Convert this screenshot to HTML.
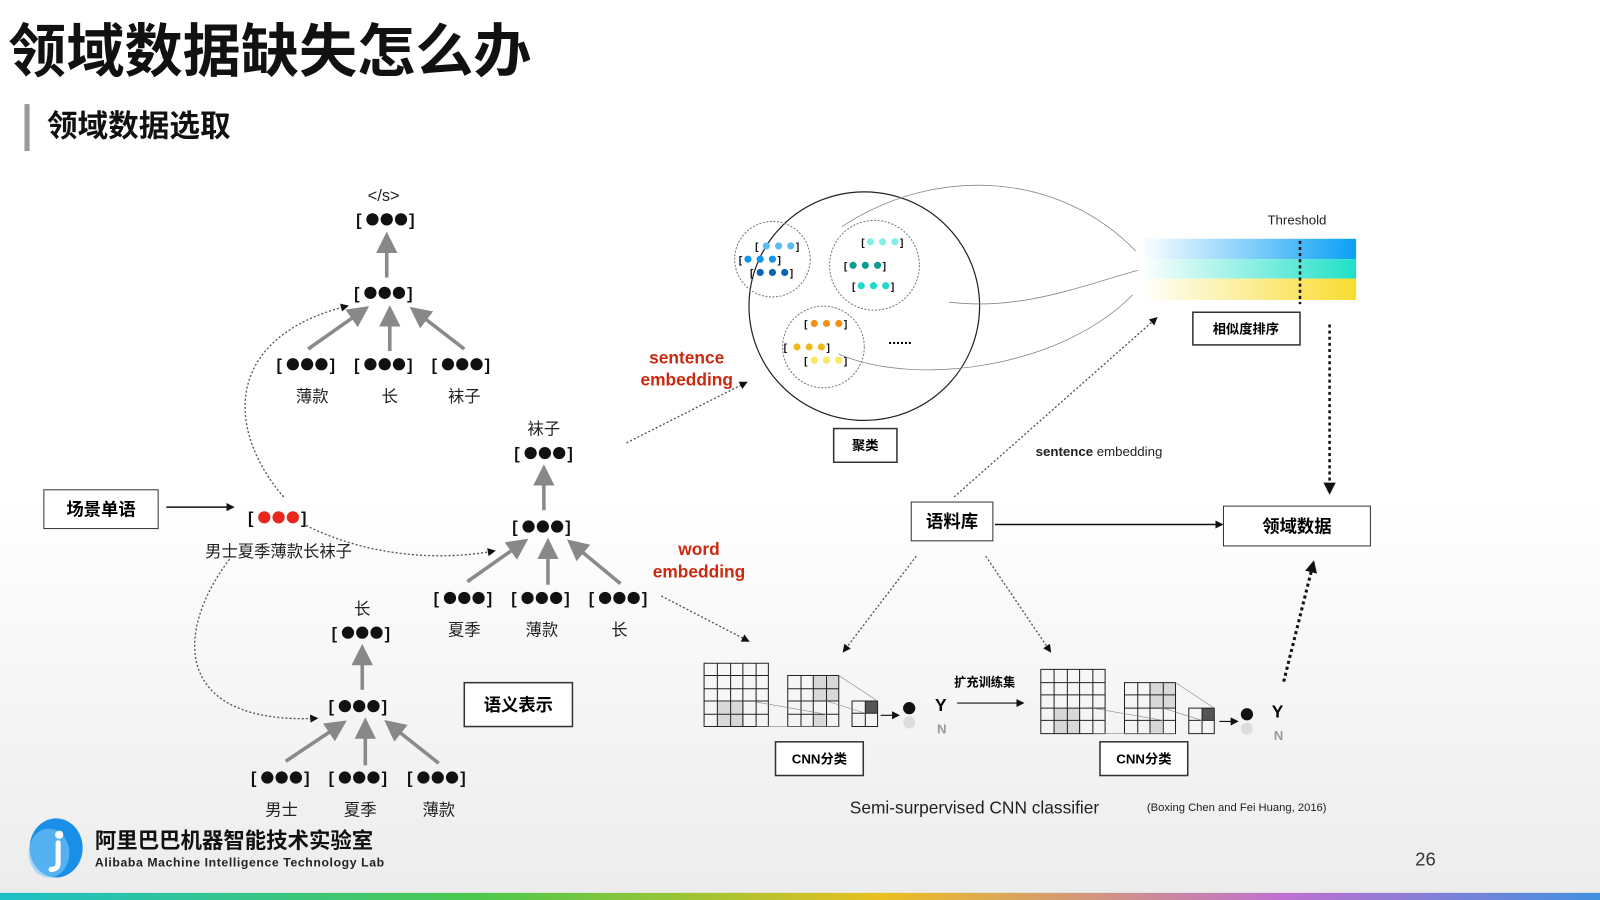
<!DOCTYPE html>
<html><head><meta charset="utf-8"><style>
html,body{margin:0;padding:0;width:1600px;height:900px;overflow:hidden;background:#fff}
svg{display:block}
text{font-family:"Liberation Sans","Noto Sans CJK SC",sans-serif}
.s{font-family:"Liberation Serif","Noto Serif CJK SC",serif;font-size:16px;fill:#222}
.b{font-weight:bold;font-size:17px}
</style></head><body>
<svg width="1600" height="900" viewBox="0 0 1568 882" preserveAspectRatio="none" xmlns="http://www.w3.org/2000/svg">
<defs>
<linearGradient id="bg" x1="0" y1="0" x2="0" y2="1"><stop offset="0.55" stop-color="#fff"/><stop offset="1" stop-color="#ececec"/></linearGradient>
<linearGradient id="rb" x1="0" x2="1"><stop offset="0" stop-color="#1ec0c8"/><stop offset="0.3" stop-color="#4cc84c"/><stop offset="0.55" stop-color="#e8c020"/><stop offset="0.8" stop-color="#c070d0"/><stop offset="1" stop-color="#4090e0"/></linearGradient>
<linearGradient id="g1" x1="0" x2="1"><stop offset="0" stop-color="#fff"/><stop offset="1" stop-color="#0aa0f5"/></linearGradient>
<linearGradient id="g2" x1="0" x2="1"><stop offset="0" stop-color="#fff"/><stop offset="1" stop-color="#20e0c8"/></linearGradient>
<linearGradient id="g3" x1="0" x2="1"><stop offset="0" stop-color="#fff"/><stop offset="1" stop-color="#f8dc30"/></linearGradient>
<marker id="ag" markerWidth="6" markerHeight="6" refX="4" refY="3" orient="auto" markerUnits="strokeWidth"><path d="M0,0 L6,3 L0,6z" fill="#888"/></marker>
<marker id="ak" markerWidth="8" markerHeight="8" refX="6" refY="4" orient="auto" markerUnits="userSpaceOnUse"><path d="M0,0 L8,4 L0,8z" fill="#111"/></marker>
<marker id="akb" markerWidth="12" markerHeight="12" refX="9" refY="6" orient="auto" markerUnits="userSpaceOnUse"><path d="M0,0 L12,6 L0,12z" fill="#111"/></marker>
</defs>
<rect width="1568" height="882" fill="url(#bg)"/>
<rect y="875" width="1568" height="7" fill="url(#rb)"/>

<text x="8" y="70" font-size="57" font-weight="bold" fill="#111">领域数据缺失怎么办</text>
<rect x="24" y="102" width="5" height="46" fill="#999"/>
<text x="46" y="134" font-size="30" font-weight="bold" fill="#111">领域数据选取</text>

<!-- vector nodes -->
<g fill="#111" font-weight="bold" font-size="16">
<g transform="translate(379,215)"><text x="-30" y="6">[</text><circle cx="-14" r="6"/><circle cx="0" r="6"/><circle cx="14" r="6"/><text x="22" y="6">]</text></g>
<g transform="translate(377,287)"><text x="-30" y="6">[</text><circle cx="-14" r="6"/><circle cx="0" r="6"/><circle cx="14" r="6"/><text x="22" y="6">]</text></g>
<g transform="translate(301,357)"><text x="-30" y="6">[</text><circle cx="-14" r="6"/><circle cx="0" r="6"/><circle cx="14" r="6"/><text x="22" y="6">]</text></g>
<g transform="translate(377,357)"><text x="-30" y="6">[</text><circle cx="-14" r="6"/><circle cx="0" r="6"/><circle cx="14" r="6"/><text x="22" y="6">]</text></g>
<g transform="translate(453,357)"><text x="-30" y="6">[</text><circle cx="-14" r="6"/><circle cx="0" r="6"/><circle cx="14" r="6"/><text x="22" y="6">]</text></g>
<g transform="translate(534,444)"><text x="-30" y="6">[</text><circle cx="-14" r="6"/><circle cx="0" r="6"/><circle cx="14" r="6"/><text x="22" y="6">]</text></g>
<g transform="translate(532,516)"><text x="-30" y="6">[</text><circle cx="-14" r="6"/><circle cx="0" r="6"/><circle cx="14" r="6"/><text x="22" y="6">]</text></g>
<g transform="translate(455,586)"><text x="-30" y="6">[</text><circle cx="-14" r="6"/><circle cx="0" r="6"/><circle cx="14" r="6"/><text x="22" y="6">]</text></g>
<g transform="translate(531,586)"><text x="-30" y="6">[</text><circle cx="-14" r="6"/><circle cx="0" r="6"/><circle cx="14" r="6"/><text x="22" y="6">]</text></g>
<g transform="translate(607,586)"><text x="-30" y="6">[</text><circle cx="-14" r="6"/><circle cx="0" r="6"/><circle cx="14" r="6"/><text x="22" y="6">]</text></g>
<g transform="translate(355,620)"><text x="-30" y="6">[</text><circle cx="-14" r="6"/><circle cx="0" r="6"/><circle cx="14" r="6"/><text x="22" y="6">]</text></g>
<g transform="translate(352,692)"><text x="-30" y="6">[</text><circle cx="-14" r="6"/><circle cx="0" r="6"/><circle cx="14" r="6"/><text x="22" y="6">]</text></g>
<g transform="translate(276,762)"><text x="-30" y="6">[</text><circle cx="-14" r="6"/><circle cx="0" r="6"/><circle cx="14" r="6"/><text x="22" y="6">]</text></g>
<g transform="translate(352,762)"><text x="-30" y="6">[</text><circle cx="-14" r="6"/><circle cx="0" r="6"/><circle cx="14" r="6"/><text x="22" y="6">]</text></g>
<g transform="translate(429,762)"><text x="-30" y="6">[</text><circle cx="-14" r="6"/><circle cx="0" r="6"/><circle cx="14" r="6"/><text x="22" y="6">]</text></g>
<g transform="translate(273,507)"><text x="-30" y="6">[</text><circle cx="-14" r="6" fill="#e8281c"/><circle cx="0" r="6" fill="#e8281c"/><circle cx="14" r="6" fill="#e8281c"/><text x="22" y="6">]</text></g>
</g>

<!-- gray tree arrows -->
<g stroke="#8a8a8a" stroke-width="3.5" marker-end="url(#ag)">
<line x1="379" y1="272" x2="379" y2="234"/>
<line x1="302" y1="342" x2="356" y2="304"/>
<line x1="382" y1="344" x2="382" y2="306"/>
<line x1="455" y1="342" x2="407" y2="305"/>
<line x1="533" y1="500" x2="533" y2="462"/>
<line x1="458" y1="570" x2="512" y2="532"/>
<line x1="537" y1="573" x2="537" y2="534"/>
<line x1="608" y1="572" x2="561" y2="533"/>
<line x1="355" y1="676" x2="355" y2="638"/>
<line x1="280" y1="746" x2="334" y2="710"/>
<line x1="358" y1="750" x2="358" y2="710"/>
<line x1="430" y1="748" x2="382" y2="710"/>
</g>

<g class="s">
<text x="376" y="197" text-anchor="middle">&lt;/s&gt;</text>
<text x="306" y="394" text-anchor="middle">薄款</text><text x="382" y="394" text-anchor="middle">长</text><text x="455" y="394" text-anchor="middle">袜子</text>
<text x="533" y="426" text-anchor="middle">袜子</text>
<text x="455" y="623" text-anchor="middle">夏季</text><text x="531" y="623" text-anchor="middle">薄款</text><text x="607" y="623" text-anchor="middle">长</text>
<text x="355" y="602" text-anchor="middle">长</text>
<text x="276" y="799" text-anchor="middle">男士</text><text x="353" y="799" text-anchor="middle">夏季</text><text x="430" y="799" text-anchor="middle">薄款</text>
<text x="273" y="546" text-anchor="middle">男士夏季薄款长袜子</text>
</g>

<rect x="43" y="480" width="112" height="38" fill="#fff" stroke="#333"/>
<text x="99" y="505" text-anchor="middle" class="b">场景单语</text>
<line x1="163" y1="497" x2="228" y2="497" stroke="#111" stroke-width="1.5" marker-end="url(#ak)"/>
<rect x="455" y="669" width="106" height="43" fill="#fff" stroke="#333" stroke-width="1.5"/>
<text x="508" y="697" text-anchor="middle" class="b">语义表示</text>

<g fill="none" stroke="#555" stroke-width="1.3" stroke-dasharray="2,2">
<path d="M278,487 C220,420 220,330 340,300" marker-end="url(#ak)"/>
<path d="M300,515 C360,545 430,550 484,540" marker-end="url(#ak)"/>
<path d="M225,548 C170,620 170,710 310,704" marker-end="url(#ak)"/>
<path d="M614,434 L731,375" marker-end="url(#ak)"/>
<path d="M648,584 L733,628" marker-end="url(#ak)"/>
<path d="M935,487 L1133,312" marker-end="url(#ak)"/>
<path d="M898,545 L827,638" marker-end="url(#ak)"/>
<path d="M966,545 L1029,638" marker-end="url(#ak)"/>
</g>
<g fill="#cc2a10" font-weight="bold" font-size="17" text-anchor="middle">
<text x="673" y="356">sentence</text><text x="673" y="378">embedding</text>
<text x="685" y="544">word</text><text x="685" y="566">embedding</text>
</g>

<!-- clusters -->
<ellipse cx="847" cy="300" rx="113" ry="112" fill="none" stroke="#222" stroke-width="1.2"/>
<g fill="none" stroke="#777" stroke-dasharray="2,1.5">
<circle cx="757" cy="254" r="37"/><circle cx="857" cy="260" r="44"/><circle cx="807" cy="340" r="40"/>
</g>
<g font-size="10" font-weight="bold" fill="#111">
<text x="740" y="245">[</text><circle cx="751" cy="241" r="3.5" fill="#5bbcf5"/><circle cx="763" cy="241" r="3.5" fill="#5bbcf5"/><circle cx="775" cy="241" r="3.5" fill="#5bbcf5"/><text x="780" y="245">]</text>
<text x="724" y="258">[</text><circle cx="733" cy="254" r="3.5" fill="#1496e8"/><circle cx="745" cy="254" r="3.5" fill="#1496e8"/><circle cx="757" cy="254" r="3.5" fill="#1496e8"/><text x="762" y="258">]</text>
<text x="735" y="271">[</text><circle cx="745" cy="267" r="3.5" fill="#0a64b4"/><circle cx="757" cy="267" r="3.5" fill="#0a64b4"/><circle cx="769" cy="267" r="3.5" fill="#0a64b4"/><text x="774" y="271">]</text>
<text x="844" y="241">[</text><circle cx="853" cy="237" r="3.5" fill="#7ff0e8"/><circle cx="865" cy="237" r="3.5" fill="#7ff0e8"/><circle cx="877" cy="237" r="3.5" fill="#7ff0e8"/><text x="882" y="241">]</text>
<text x="827" y="264">[</text><circle cx="836" cy="260" r="3.5" fill="#109a90"/><circle cx="848" cy="260" r="3.5" fill="#109a90"/><circle cx="860" cy="260" r="3.5" fill="#109a90"/><text x="865" y="264">]</text>
<text x="835" y="284">[</text><circle cx="844" cy="280" r="3.5" fill="#20d8c8"/><circle cx="856" cy="280" r="3.5" fill="#20d8c8"/><circle cx="868" cy="280" r="3.5" fill="#20d8c8"/><text x="873" y="284">]</text>
<text x="788" y="321">[</text><circle cx="798" cy="317" r="3.5" fill="#f59010"/><circle cx="810" cy="317" r="3.5" fill="#f59010"/><circle cx="822" cy="317" r="3.5" fill="#f59010"/><text x="827" y="321">]</text>
<text x="768" y="344">[</text><circle cx="781" cy="340" r="3.5" fill="#f0b820"/><circle cx="793" cy="340" r="3.5" fill="#f0b820"/><circle cx="805" cy="340" r="3.5" fill="#f0b820"/><text x="810" y="344">]</text>
<text x="788" y="357">[</text><circle cx="798" cy="353" r="3.5" fill="#fae860"/><circle cx="810" cy="353" r="3.5" fill="#fae860"/><circle cx="822" cy="353" r="3.5" fill="#fae860"/><text x="827" y="357">]</text>
</g>
<text x="882" y="337" text-anchor="middle" font-size="14" font-weight="bold">......</text>
<g fill="none" stroke="#888" stroke-width="0.8">
<path d="M825,222 C920,160 1040,170 1113,246"/>
<path d="M930,296 C1000,305 1060,280 1115,265"/>
<path d="M822,347 C900,380 1040,360 1110,289"/>
</g>
<rect x="817" y="420" width="62" height="33" fill="#fff" stroke="#333" stroke-width="1.5"/>
<text x="848" y="441" text-anchor="middle" font-size="13" font-weight="bold">聚类</text>

<rect x="1117" y="234" width="212" height="20" fill="url(#g1)"/>
<rect x="1117" y="254" width="212" height="19" fill="url(#g2)"/>
<rect x="1117" y="273" width="212" height="21" fill="url(#g3)"/>
<text x="1271" y="220" text-anchor="middle" font-size="13" fill="#222">Threshold</text>
<line x1="1274" y1="236" x2="1274" y2="298" stroke="#111" stroke-width="2.5" stroke-dasharray="3,3"/>
<rect x="1169" y="306" width="105" height="32" fill="#fff" stroke="#333" stroke-width="1.5"/>
<text x="1221" y="327" text-anchor="middle" font-size="13" font-weight="bold">相似度排序</text>
<line x1="1303" y1="318" x2="1303" y2="482" stroke="#111" stroke-width="2.5" stroke-dasharray="3,3" marker-end="url(#akb)"/>
<text x="1077" y="447" text-anchor="middle" font-size="13" fill="#222"><tspan font-weight="bold">sentence</tspan> embedding</text>

<rect x="893" y="492" width="80" height="38" fill="#fff" stroke="#333"/>
<text x="933" y="517" text-anchor="middle" class="b">语料库</text>
<line x1="975" y1="514" x2="1197" y2="514" stroke="#111" stroke-width="1.5" marker-end="url(#ak)"/>
<rect x="1199" y="496" width="144" height="39" fill="#fff" stroke="#333"/>
<text x="1271" y="522" text-anchor="middle" class="b">领域数据</text>
<line x1="1258" y1="668" x2="1287" y2="552" stroke="#111" stroke-width="3" stroke-dasharray="3,3" marker-end="url(#akb)"/>

<!-- CNN 1 -->
<g stroke="#222" stroke-width="1" fill="none">
<rect x="703" y="688" width="26" height="24" fill="#d8d8d8" stroke="none"/>
<path d="M690,650h63v62h-63zM703,650v62M716,650v62M728,650v62M741,650v62M690,662h63M690,675h63M690,687h63M690,700h63"/>
<rect x="797" y="662" width="25" height="25" fill="#d8d8d8" stroke="none"/><rect x="797" y="700" width="12" height="12" fill="#d8d8d8" stroke="none"/>
<path d="M772,662h50v50h-50zM785,662v50M797,662v50M810,662v50M772,675h50M772,687h50M772,700h50"/>
<rect x="848" y="687" width="12" height="12" fill="#555" stroke="none"/>
<path d="M835,687h25v25h-25zM848,687v25M835,699h25"/>
<path d="M741,688L810,700M741,712L822,712M822,662L860,687M810,687L848,699" stroke="#888" stroke-width="0.6"/>
</g>
<line x1="863" y1="701" x2="880" y2="701" stroke="#111" marker-end="url(#ak)"/>
<circle cx="891" cy="694" r="6" fill="#111"/><circle cx="891" cy="708" r="6" fill="#ddd"/>
<text x="922" y="697" text-anchor="middle" font-size="17" font-weight="bold">Y</text>
<text x="923" y="719" text-anchor="middle" font-size="13" font-weight="bold" fill="#999">N</text>
<text x="965" y="673" text-anchor="middle" font-size="12" font-weight="bold">扩充训练集</text>
<line x1="938" y1="689" x2="1002" y2="689" stroke="#111" marker-end="url(#ak)"/>
<!-- CNN 2 -->
<g stroke="#222" stroke-width="1" fill="none">
<rect x="1033" y="694" width="26" height="25" fill="#d8d8d8" stroke="none"/>
<path d="M1020,656h63v63h-63zM1033,656v63M1046,656v63M1058,656v63M1071,656v63M1020,669h63M1020,681h63M1020,694h63M1020,706h63"/>
<rect x="1127" y="669" width="25" height="25" fill="#d8d8d8" stroke="none"/><rect x="1127" y="706" width="12" height="13" fill="#d8d8d8" stroke="none"/>
<path d="M1102,669h50v50h-50zM1115,669v50M1127,669v50M1140,669v50M1102,681h50M1102,694h50M1102,706h50"/>
<rect x="1178" y="694" width="12" height="12" fill="#555" stroke="none"/>
<path d="M1165,694h25v25h-25zM1178,694v25M1165,706h25"/>
<path d="M1071,694L1140,706M1071,719L1152,719M1152,669L1190,694M1140,694L1178,706" stroke="#888" stroke-width="0.6"/>
</g>
<line x1="1195" y1="707" x2="1212" y2="707" stroke="#111" marker-end="url(#ak)"/>
<circle cx="1222" cy="700" r="6" fill="#111"/><circle cx="1222" cy="714" r="6" fill="#ddd"/>
<text x="1252" y="703" text-anchor="middle" font-size="17" font-weight="bold">Y</text>
<text x="1253" y="725" text-anchor="middle" font-size="13" font-weight="bold" fill="#999">N</text>
<rect x="760" y="727" width="86" height="33" fill="#fff" stroke="#333" stroke-width="1.5"/>
<text x="803" y="748" text-anchor="middle" font-size="13" font-weight="bold">CNN分类</text>
<rect x="1078" y="727" width="86" height="33" fill="#fff" stroke="#333" stroke-width="1.5"/>
<text x="1121" y="748" text-anchor="middle" font-size="13" font-weight="bold">CNN分类</text>
<text x="955" y="797" text-anchor="middle" font-size="17" fill="#222">Semi-surpervised CNN classifier</text>
<text x="1212" y="795" text-anchor="middle" font-size="11" fill="#222">(Boxing Chen and Fei Huang, 2016)</text>

<!-- logo -->
<ellipse cx="55" cy="831" rx="26" ry="29" fill="#1a8fe8"/>
<ellipse cx="48" cy="836" rx="20" ry="24" fill="#7cc8f8" opacity="0.6"/>
<circle cx="58" cy="818" r="4" fill="#fff"/>
<path d="M57,826 v20 q0,6 -7,6" stroke="#fff" stroke-width="5" fill="none" stroke-linecap="round"/>
<text x="93" y="831" font-size="21" font-weight="bold" fill="#111">阿里巴巴机器智能技术实验室</text>
<text x="93" y="849" font-size="12" font-weight="bold" fill="#222" letter-spacing="0.6">Alibaba Machine Intelligence Technology Lab</text>
<text x="1397" y="848" text-anchor="middle" font-size="18" fill="#333">26</text>
</svg>
</body></html>
